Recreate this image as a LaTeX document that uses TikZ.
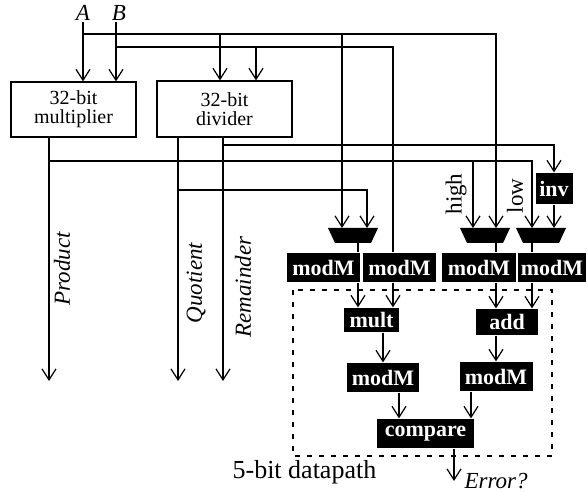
\documentclass[tikz,border=0pt]{standalone}
\usepackage{fontspec}
\setmainfont{Liberation Serif}
\usetikzlibrary{arrows.meta}

\begin{document}
\begin{tikzpicture}[x=1pt, y=-1pt, line width=1.2pt,
    wire/.style={-{Straight Barb[length=11pt, width=14pt]}},
    unit/.style={draw, align=center, inner sep=0pt, font=\fontsize{20}{19}\selectfont},
    blk/.style={fill=black, text=white, inner sep=0pt, font=\fontsize{22}{22}\selectfont\bfseries},
    sig/.style={inner sep=1pt, font=\fontsize{23}{23}\selectfont\itshape},
    tag/.style={inner sep=1pt, font=\fontsize{23}{23}\selectfont}]
    \useasboundingbox (0,0) rectangle (587,492);

    % 32-bit units
    \node[unit, minimum width=125pt, minimum height=55pt] (mul) at (73.5,109.5) {32-bit\\multiplier};
    \node[unit, minimum width=135pt, minimum height=56pt] (div) at (224.5,109) {32-bit\\divider};

    % Residue checker blocks
    \node[blk, minimum width=37pt, minimum height=31pt] (inv) at (554,188.5) {inv};
    \foreach \nm/\cx in {muxL/353, muxH/485, muxO/541} {
        \fill (\cx-25,228) -- (\cx+25,228) -- (\cx+18,243) -- (\cx-18,243) -- cycle;
        \coordinate (\nm) at (\cx,235.5);
    }
    \foreach \nm/\cx/\w in {modA/323.5/73, modB/399.5/73, modC/479/74, modD/552/68}
        \node[blk, minimum width=\w pt, minimum height=29pt] (\nm) at (\cx,267.5) {modM};
    \node[blk, minimum width=55pt, minimum height=24pt] (mult) at (371.5,320) {mult};
    \node[blk, minimum width=62pt, minimum height=26pt] (add) at (507,322) {add};
    \node[blk, minimum width=72pt, minimum height=29pt] (modE) at (383,377.5) {modM};
    \node[blk, minimum width=73pt, minimum height=29pt] (modF) at (496,376.5) {modM};
    \node[blk, minimum width=97pt, minimum height=29pt] (cmp) at (425.5,433.5) {compare};

    % Datapath frame
    \draw[dash pattern=on 5pt off 7pt] (293,290) rectangle (552,456);
    \node[tag, anchor=base west, font=\fontsize{26}{26}\selectfont] (dp) at (231,478) {5-bit datapath};

    % Input pins
    \coordinate (pA) at (83,22);
    \coordinate (pB) at (116,22);
    \coordinate (railA) at (83,34);
    \coordinate (railB) at (116,47);
    \coordinate (dinA) at (220,0 |- div.north);
    \coordinate (dinB) at (256,0 |- div.north);
    \coordinate (lIn1) at (342,228);
    \coordinate (lIn2) at (367,228);
    \coordinate (hIn1) at (473,228);
    \coordinate (hIn2) at (496,228);
    \coordinate (oIn1) at (532,228);
    \coordinate (oIn2) at (554,228);
    \coordinate (bIn) at (393,0 |- modB.north);

    \node[sig, anchor=south] (lblA) at (pA) {A};
    \node[sig, anchor=south, xshift=3pt] (lblB) at (pB) {B};

    % Operand buses
    \draw[wire] (pA) -- (pA |- mul.north);
    \draw[wire] (pB) -- (pB |- mul.north);
    \draw[wire] (railA) -| (hIn2);
    \draw[wire] (railA -| dinA) -- (dinA);
    \draw[wire] (railA -| lIn1) -- (lIn1);
    \draw (railB) -| (bIn);
    \draw[wire] (railB -| dinB) -- (dinB);

    % Multiplier outputs
    \coordinate (mulOut) at (49,0 |- mul.south);
    \coordinate (prodEnd) at (49,381);
    \coordinate (mulRail) at (49,161);
    \draw[wire] (mulOut) -- (prodEnd);
    \draw[wire] (mulRail) -| (oIn1);
    \draw[wire] (mulRail -| hIn1) -- (hIn1);
    \node[sig, rotate=90] (lblP) at (62,269) {Product};
    \node[tag, rotate=90] (lblH) at (456,194) {high};
    \node[tag, rotate=90] (lblL) at (515,196) {low};

    % Divider outputs
    \coordinate (quoOut) at (178,0 |- div.south);
    \coordinate (remOut) at (223,0 |- div.south);
    \coordinate (quoEnd) at (178,381);
    \coordinate (remEnd) at (223,381);
    \coordinate (remRail) at (223,145);
    \coordinate (quoRail) at (178,190);
    \draw[wire] (quoOut) -- (quoEnd);
    \draw[wire] (remOut) -- (remEnd);
    \draw[wire] (remRail) -| (inv.north);
    \draw[wire] (quoRail) -| (lIn2);
    \draw[wire] (inv.south) -- (oIn2);
    \node[sig, rotate=90] (lblQ) at (196,283) {Quotient};
    \node[sig, rotate=90] (lblR) at (243,287) {Remainder};

    % Mux outputs through modM
    \coordinate (lOut) at (358,243);
    \coordinate (hOut) at (496,243);
    \coordinate (oOut) at (532,243);
    \draw (lOut) -- (lOut |- modA.north);
    \draw (hOut) -- (hOut |- modC.north);
    \draw (oOut) -- (oOut |- modD.north);
    \draw[wire] (lOut |- modA.south) -- (lOut |- mult.north);
    \draw[wire] (bIn |- modB.south) -- (bIn |- mult.north);
    \draw[wire] (hOut |- modC.south) -- (hOut |- add.north);
    \draw[wire] (oOut |- modD.south) -- (oOut |- add.north);

    % Compare path
    \draw[wire] (modE.north |- mult.south) -- (modE.north);
    \draw[wire] (modF.north |- add.south) -- (modF.north);
    \draw[wire] ([xshift=16pt]modE.south) coordinate (eOut) -- (eOut |- cmp.north);
    \draw[wire] ([xshift=-25pt]modF.south) coordinate (fOut) -- (fOut |- cmp.north);
    \coordinate (errEnd) at (454,481);
    \draw[wire] (errEnd |- cmp.south) -- (errEnd);
    \node[sig, anchor=base west] (lblE) at (463,488) {Error?};

\end{tikzpicture}
\end{document}
